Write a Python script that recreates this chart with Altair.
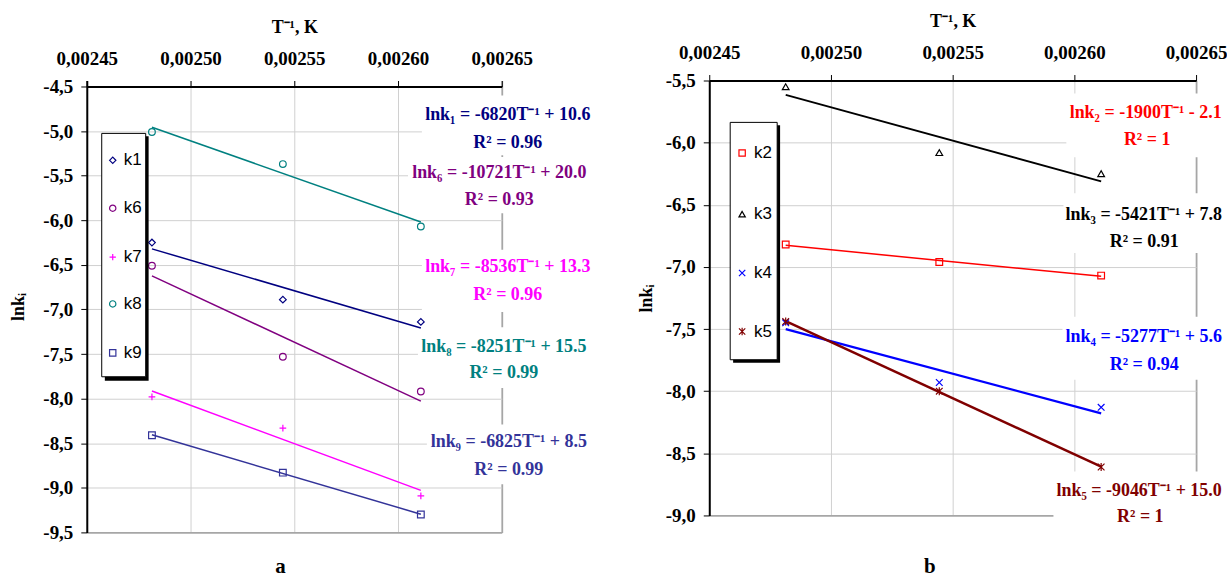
import altair as alt
import pandas as pd

# ---------------- data ----------------
inv_T = [0.0024814, 0.0025445, 0.0026110]          # T^-1 values of the three temperatures

left_series = ["k1", "k6", "k7", "k8", "k9"]
k1 = [-6.25, -6.89, -7.14]
k6 = [-6.51, -7.53, -7.92]
k7 = [-7.98, -8.33, -9.09]
k8 = [-5.01, -5.37, -6.07]
k9 = [-8.41, -8.83, -9.30]
left_values = [k1, k6, k7, k8, k9]

right_series = ["k2", "k3", "k4", "k5"]
k2 = [-6.82, -6.96, -7.07]
k3 = [-5.55, -6.08, -6.25]
k4 = [-7.45, -7.93, -8.13]
k5 = [-7.44, -8.00, -8.61]
right_values = [k2, k3, k4, k5]

x_ticks = [0.00245, 0.00250, 0.00255, 0.00260, 0.00265]
left_y_ticks = [-4.5, -5.0, -5.5, -6.0, -6.5, -7.0, -7.5, -8.0, -8.5, -9.0, -9.5]
right_y_ticks = [-5.5, -6.0, -6.5, -7.0, -7.5, -8.0, -8.5, -9.0]

# styles
left_colors = ["#000080", "#800080", "#FF00FF", "#008080", "#333399"]
right_colors = ["#FF0000", "#000000", "#0000FF", "#800000"]
left_shapes = ["diamond", "circle", "M-1,0L1,0M0,-1L0,1", "circle", "square"]
right_shapes = ["square", "triangle-up", "M-1,-1L1,1M-1,1L1,-1",
                "M-1,-1L1,1M-1,1L1,-1M0,-1.2L0,1.2"]
left_widths = [1.5, 1.5, 1.5, 1.5, 1.5]
right_widths = [1.5, 2.5, 2.0, 1.5]

# trend-line labels (text, colour, x, y in data units)
left_labels = ["lnk₁ = -6820T⁻¹ + 10.6", "R² = 0.96",
               "lnk₆ = -10721T⁻¹ + 20.0", "R² = 0.93",
               "lnk₇ = -8536T⁻¹ + 13.3", "R² = 0.96",
               "lnk₈ = -8251T⁻¹ + 15.5", "R² = 0.99",
               "lnk₉ = -6825T⁻¹ + 8.5", "R² = 0.99"]
left_label_colors = ["#000080", "#000080", "#800080", "#800080", "#FF00FF", "#FF00FF",
                     "#008080", "#008080", "#333399", "#333399"]
left_label_x = [0.0026529, 0.0026529, 0.0026488, 0.0026488, 0.0026529, 0.0026529,
                0.0026510, 0.0026510, 0.0026534, 0.0026534]
left_label_y = [-4.824, -5.138, -5.473, -5.775, -6.525, -6.838, -7.419, -7.710, -8.482, -8.795]
# white boxes behind the labels
left_box_x = [0.0026115, 0.0026048, 0.0026115, 0.0026096, 0.0026139]
left_box_x2 = [0.0026962, 0.0026947, 0.0026962, 0.0026947, 0.0026947]
left_box_y = [-4.60, -5.29, -6.33, -7.20, -8.29]
left_box_y2 = [-5.27, -5.92, -7.03, -7.88, -8.96]

right_labels = ["lnk₂ = -1900T⁻¹ - 2.1", "R² = 1",
                "lnk₃ = -5421T⁻¹ + 7.8", "R² = 0.91",
                "lnk₄ = -5277T⁻¹ + 5.6", "R² = 0.94",
                "lnk₅ = -9046T⁻¹ + 15.0", "R² = 1"]
right_label_colors = ["#FF0000", "#FF0000", "#000000", "#000000",
                      "#0000FF", "#0000FF", "#800000", "#800000"]
right_label_x = [0.0026293, 0.0026299, 0.0026285, 0.0026287,
                 0.0026285, 0.0026287, 0.0026266, 0.0026271]
right_label_y = [-5.765, -5.982, -6.583, -6.800, -7.563, -7.787, -8.807, -9.015]
right_box_x = [0.0025967, 0.0025955, 0.0025951, 0.0025914]
right_box_x2 = [0.0026627, 0.0026627, 0.0026627, 0.0026627]
right_box_y = [-5.604, -6.407, -7.402, -8.646]
right_box_y2 = [-6.118, -6.888, -7.908, -9.152]

# legend boxes (x, x2, y, y2 in data units), shadows, entry positions
left_legend_box = [0.0024572, 0.0024784, -5.026, -7.755]
left_legend_shadow = [0.0024587, 0.0024798, -5.059, -7.800]
left_legend_sym_x = 0.0024625
left_legend_txt_x = 0.0024678
left_legend_y = [-5.328, -5.865, -6.413, -6.938, -7.487]

right_legend_box = [0.0024586, 0.0024779, -5.837, -7.747]
right_legend_shadow = [0.0024598, 0.0024791, -5.861, -7.771]
right_legend_sym_x = 0.0024635
right_legend_txt_x = 0.0024684
right_legend_y = [-6.083, -6.575, -7.049, -7.520]

captions = ["a", "b"]
caption_x = [0.0025433, 0.0025406]
caption_y = [-9.89, -9.417]

SERIF = "Liberation Serif"
SANS = "Liberation Sans"
GRID = "#d0d0d0"
EDGE = "#a6a6a6"


def rect_df(r):
    return pd.DataFrame({"x": [r[0]], "x2": [r[1]], "y": [r[2]], "y2": [r[3]]})


def panel(series, values, colors, shapes, widths, ydomain, yticks, w, h, top_offset,
          lbox, lshadow, lsym_x, ltxt_x, ly_entries,
          labels, label_colors, lx, ly, bx, bx2, by, by2,
          caption, cx, cy, ytitle_x):
    xsc = alt.Scale(domain=[0.00245, 0.00265], nice=False, zero=False)
    ysc = alt.Scale(domain=ydomain, nice=False, zero=False)
    x_edge = "datum.value >= 0.002649"
    y_edge = "datum.value <= %f" % (min(yticks) + 0.01)
    xax = alt.Axis(orient="top", values=x_ticks, title="T⁻¹, K",
                   labelExpr="replace(format(datum.value, '.5f'), '.', ',')",
                   titleBaseline="middle", titleY=-59, labelPadding=12,
                   offset=top_offset,
                   gridColor=alt.condition(x_edge, alt.value(EDGE), alt.value(GRID)),
                   gridWidth=alt.condition(x_edge, alt.value(1.8), alt.value(1)),
                   labelFlush=False, labelOverlap=False)
    yax = alt.Axis(values=yticks, title="lnkᵢ",
                   labelExpr="replace(replace(format(datum.value, '.1f'), '.', ','), '−', '-')",
                   titleBaseline="middle", titleX=ytitle_x, labelPadding=8,
                   gridColor=alt.condition(y_edge, alt.value(EDGE), alt.value(GRID)),
                   gridWidth=alt.condition(y_edge, alt.value(1.8), alt.value(1)),
                   labelFlush=False, labelOverlap=False)
    X = lambda f="x": alt.X(f + ":Q", scale=xsc, axis=xax)
    Y = lambda f="y": alt.Y(f + ":Q", scale=ysc, axis=yax)
    cscale = alt.Scale(domain=series, range=colors)
    sscale = alt.Scale(domain=series, range=shapes)

    rows = []
    for s, vals in zip(series, values):
        for xv, yv in zip(inv_T, vals):
            rows.append({"x": xv, "y": yv, "series": s})
    df = pd.DataFrame(rows)

    boxes = alt.Chart(pd.DataFrame({"x": bx, "x2": bx2, "y": by, "y2": by2})).mark_rect(
        fill="white").encode(x=X(), x2="x2:Q", y=Y(), y2="y2:Q")

    lines = alt.Chart(df).transform_regression(
        "x", "y", groupby=["series"]).mark_line().encode(
        x=X(), y=Y(),
        stroke=alt.Stroke("series:N", scale=cscale, legend=None),
        strokeWidth=alt.StrokeWidth("series:N", scale=alt.Scale(domain=series, range=widths),
                                    legend=None))

    points = alt.Chart(df).mark_point(filled=False, size=45, strokeWidth=1.2, opacity=1).encode(
        x=X(), y=Y(),
        color=alt.Color("series:N", scale=cscale, legend=None),
        shape=alt.Shape("series:N", scale=sscale, legend=None))

    # legend drawn as a small boxed key
    leg_shadow = alt.Chart(rect_df(lshadow)).mark_rect(fill="black").encode(
        x=X(), x2="x2:Q", y=Y(), y2="y2:Q")
    leg_box = alt.Chart(rect_df(lbox)).mark_rect(
        fill="white", stroke="black", strokeWidth=1).encode(
        x=X(), x2="x2:Q", y=Y(), y2="y2:Q")
    leg_df = pd.DataFrame({"x": [lsym_x] * len(series), "xt": [ltxt_x] * len(series),
                           "y": ly_entries, "series": series})
    leg_sym = alt.Chart(leg_df).mark_point(filled=False, size=40, strokeWidth=1.2,
                                           opacity=1).encode(
        x=X(), y=Y(),
        color=alt.Color("series:N", scale=cscale, legend=None),
        shape=alt.Shape("series:N", scale=sscale, legend=None))
    leg_txt = alt.Chart(leg_df).mark_text(
        font=SANS, fontSize=17, color="black", align="left", baseline="middle").encode(
        x=X("xt"), y=Y(), text="series:N")

    layers = [boxes, lines, points, leg_shadow, leg_box, leg_sym, leg_txt]
    for t, c, xv, yv in zip(labels, label_colors, lx, ly):
        layers.append(
            alt.Chart(pd.DataFrame({"x": [xv], "y": [yv], "t": [t]})).mark_text(
                color=c, font=SERIF, fontWeight="bold", fontSize=18,
                align="center", baseline="middle").encode(x=X(), y=Y(), text="t:N"))
    layers.append(
        alt.Chart(pd.DataFrame({"x": [cx], "y": [cy], "t": [caption]})).mark_text(
            color="black", font=SERIF, fontWeight="bold", fontSize=21,
            align="center", baseline="middle").encode(x=X(), y=Y(), text="t:N"))
    return alt.layer(*layers).properties(width=w, height=h)


# left panel: plot area starts 6 px above its (offset) top axis so that
# the right panel sits 6 px higher, as in the reference
left = panel(left_series, left_values, left_colors, left_shapes, left_widths,
             [-9.5, -4.433], left_y_ticks, 416, 453, -6,
             left_legend_box, left_legend_shadow, left_legend_sym_x, left_legend_txt_x,
             left_legend_y,
             left_labels, left_label_colors, left_label_x, left_label_y,
             left_box_x, left_box_x2, left_box_y, left_box_y2,
             captions[0], caption_x[0], caption_y[0], -68)

right = panel(right_series, right_values, right_colors, right_shapes, right_widths,
              [-9.0, -5.5], right_y_ticks, 488, 436, 0,
              right_legend_box, right_legend_shadow, right_legend_sym_x, right_legend_txt_x,
              right_legend_y,
              right_labels, right_label_colors, right_label_x, right_label_y,
              right_box_x, right_box_x2, right_box_y, right_box_y2,
              captions[1], caption_x[1], caption_y[1], -63)

chart = alt.hconcat(left, right, spacing=39).resolve_scale(
    color="independent", shape="independent", stroke="independent",
    strokeWidth="independent"
).properties(
    padding={"left": 10, "top": 12, "right": 0, "bottom": 0},
    background="white"
).configure_view(
    strokeWidth=0
).configure_axis(
    labelFont=SERIF, labelFontWeight="bold", labelFontSize=19, labelColor="black",
    titleFont=SERIF, titleFontWeight="bold", titleFontSize=18, titleColor="black",
    domainColor="black", domainWidth=2, tickColor="black", tickSize=6, tickWidth=1
)

chart.save("out.html", embed_options={"renderer": "svg", "actions": False})
